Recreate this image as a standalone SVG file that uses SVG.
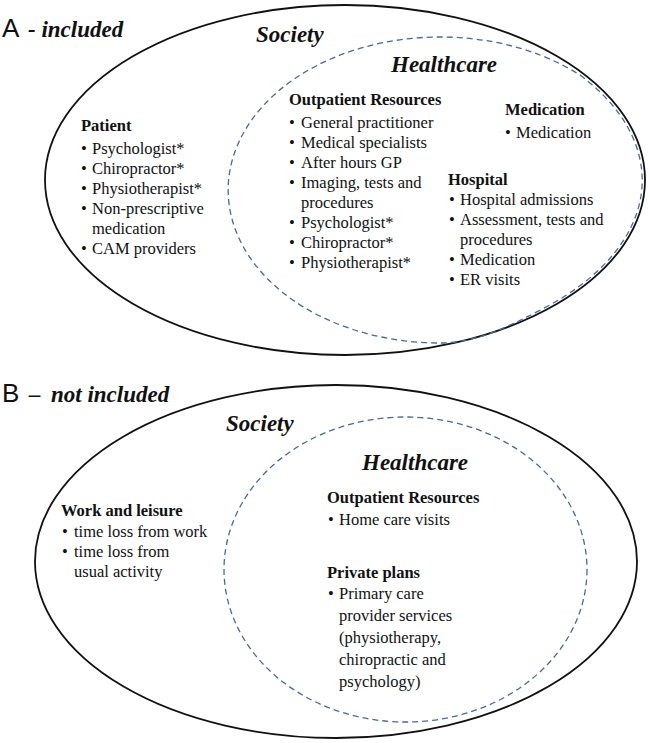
<svg xmlns="http://www.w3.org/2000/svg" width="650" height="743" viewBox="0 0 650 743">
<style>
.outer{fill:none;stroke:#111;stroke-width:1.8}
.dash{fill:none;stroke:#4a6899;stroke-width:1.3;stroke-dasharray:6 4}
.lbl{font-family:"Liberation Sans",Arial,sans-serif;font-size:26px;fill:#111}
.bi{font-family:"Liberation Serif","Times New Roman",serif;font-weight:bold;font-style:italic;font-size:23px;fill:#111}
.h{font-family:"Liberation Serif","Times New Roman",serif;font-weight:bold;font-size:16.5px;fill:#111}
.t{font-family:"Liberation Serif","Times New Roman",serif;font-size:16.5px;fill:#111}
</style>
<rect width="650" height="743" fill="#fff"/>
<g id="panelA">
  <text class="lbl" x="2" y="37">A</text>
  <text class="bi" x="28" y="37">- included</text>
  <g id="A-society">
    <ellipse class="outer" cx="345" cy="180" rx="300" ry="175"/>
    <text class="bi" x="256" y="42">Society</text>
  </g>
  <g id="A-healthcare">
    <path class="dash" d="M580,75 A297,172 0 0 1 548,306 C508,327.5 475,343 440,343 A212,153 0 1 1 580,75 Z"/>
    <text class="bi" x="391" y="72">Healthcare</text>
  </g>
  <g id="A-patient">
    <text class="h" x="81" y="131">Patient</text>
    <text class="t" x="81" y="154">•</text><text class="t" x="92" y="154">Psychologist*</text>
    <text class="t" x="81" y="174">•</text><text class="t" x="92" y="174">Chiropractor*</text>
    <text class="t" x="81" y="194">•</text><text class="t" x="92" y="194">Physiotherapist*</text>
    <text class="t" x="81" y="214">•</text><text class="t" x="92" y="214">Non-prescriptive</text>
    <text class="t" x="92" y="234">medication</text>
    <text class="t" x="81" y="254">•</text><text class="t" x="92" y="254">CAM providers</text>
  </g>
  <g id="A-outpatient">
    <text class="h" x="289" y="105">Outpatient Resources</text>
    <text class="t" x="289" y="128">•</text><text class="t" x="301" y="128">General practitioner</text>
    <text class="t" x="289" y="148">•</text><text class="t" x="301" y="148">Medical specialists</text>
    <text class="t" x="289" y="168">•</text><text class="t" x="301" y="168">After hours GP</text>
    <text class="t" x="289" y="188">•</text><text class="t" x="301" y="188">Imaging, tests and</text>
    <text class="t" x="301" y="208">procedures</text>
    <text class="t" x="289" y="228">•</text><text class="t" x="301" y="228">Psychologist*</text>
    <text class="t" x="289" y="248">•</text><text class="t" x="301" y="248">Chiropractor*</text>
    <text class="t" x="289" y="268">•</text><text class="t" x="301" y="268">Physiotherapist*</text>
  </g>
  <g id="A-medication">
    <text class="h" x="505" y="115">Medication</text>
    <text class="t" x="505" y="138">•</text><text class="t" x="516" y="138">Medication</text>
  </g>
  <g id="A-hospital">
    <text class="h" x="448" y="185">Hospital</text>
    <text class="t" x="449" y="205">•</text><text class="t" x="460" y="205">Hospital admissions</text>
    <text class="t" x="449" y="225">•</text><text class="t" x="460" y="225">Assessment, tests and</text>
    <text class="t" x="460" y="245">procedures</text>
    <text class="t" x="449" y="265">•</text><text class="t" x="460" y="265">Medication</text>
    <text class="t" x="449" y="285">•</text><text class="t" x="460" y="285">ER visits</text>
  </g>
</g>
<g id="panelB">
  <text class="lbl" x="2" y="402">B</text>
  <text class="bi" x="29" y="402">–</text>
  <text class="bi" x="51" y="402">not included</text>
  <g id="B-society">
    <ellipse class="outer" cx="336" cy="561.5" rx="301" ry="176.5"/>
    <text class="bi" x="226" y="431">Society</text>
  </g>
  <g id="B-healthcare">
    <ellipse class="dash" cx="405.5" cy="569.5" rx="181.5" ry="152.5"/>
    <text class="bi" x="362" y="470">Healthcare</text>
  </g>
  <g id="B-work">
    <text class="h" x="61" y="516">Work and leisure</text>
    <text class="t" x="62" y="537">•</text><text class="t" x="74" y="537">time loss from work</text>
    <text class="t" x="62" y="557">•</text><text class="t" x="74" y="557">time loss from</text>
    <text class="t" x="74" y="577">usual activity</text>
  </g>
  <g id="B-outpatient">
    <text class="h" x="327" y="503">Outpatient Resources</text>
    <text class="t" x="328" y="525">•</text><text class="t" x="339" y="525">Home care visits</text>
  </g>
  <g id="B-private">
    <text class="h" x="327" y="578">Private plans</text>
    <text class="t" x="328" y="599">•</text><text class="t" x="339" y="599">Primary care</text>
    <text class="t" x="339" y="621">provider services</text>
    <text class="t" x="339" y="643">(physiotherapy,</text>
    <text class="t" x="339" y="665">chiropractic and</text>
    <text class="t" x="339" y="687">psychology)</text>
  </g>
</g>
<g id="connectors"/>
</svg>
